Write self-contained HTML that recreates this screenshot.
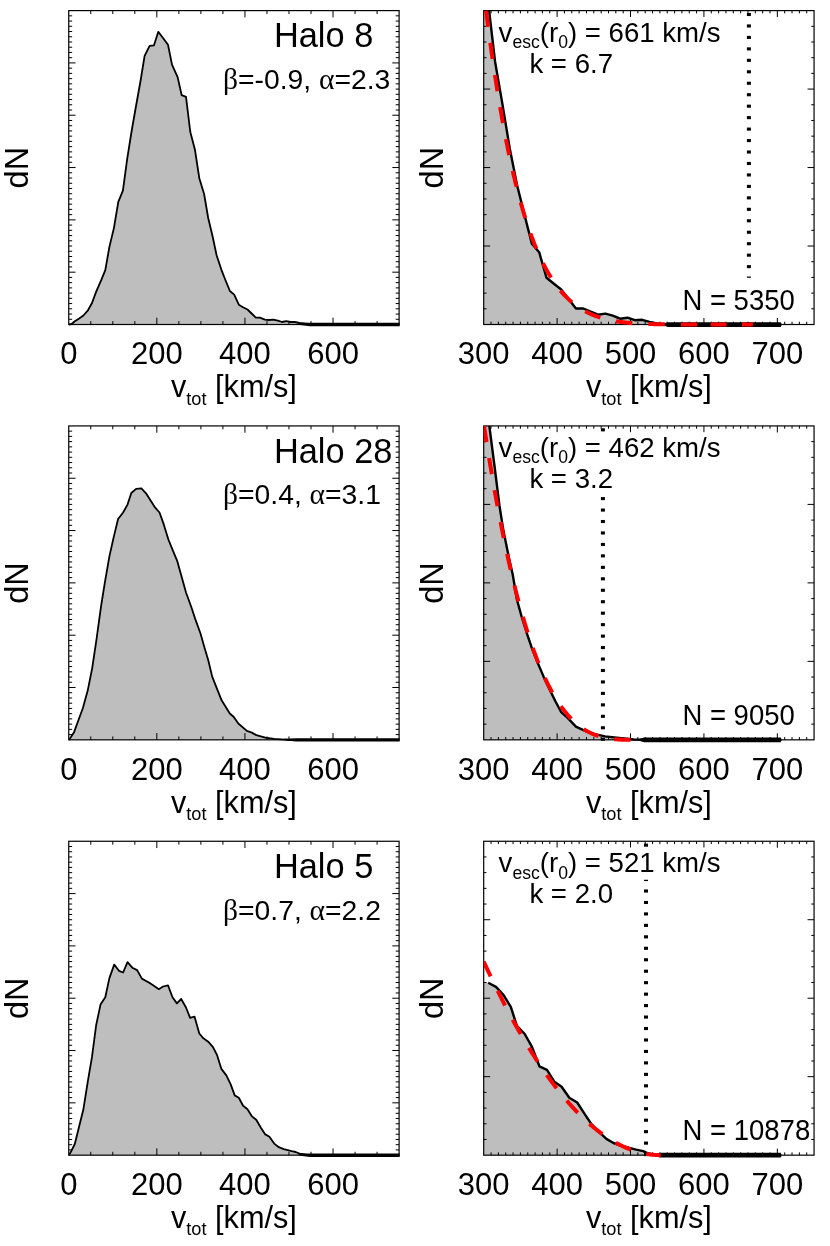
<!DOCTYPE html>
<html><head><meta charset="utf-8"><title>fig</title>
<style>html,body{margin:0;padding:0;background:#fff}svg{display:block;will-change:transform}</style></head>
<body>
<svg width="830" height="1246" viewBox="0 0 830 1246">
<rect width="830" height="1246" fill="#fff"/>
<defs>
<clipPath id="cl0"><rect x="68.75" y="10.6" width="331.35" height="318.9"/></clipPath>
<clipPath id="cr0"><rect x="483.7" y="10.6" width="331.35" height="318.9"/></clipPath>
<clipPath id="cl1"><rect x="68.75" y="425.93" width="331.35" height="318.9"/></clipPath>
<clipPath id="cr1"><rect x="483.7" y="425.93" width="331.35" height="318.9"/></clipPath>
<clipPath id="cl2"><rect x="68.75" y="841.26" width="331.35" height="318.9"/></clipPath>
<clipPath id="cr2"><rect x="483.7" y="841.26" width="331.35" height="318.9"/></clipPath>
</defs>
<polygon points="68.7,324.5 71.6,324 74.5,321.5 78.8,318.7 83.4,315.5 87.7,310.7 92,303 96.1,291.9 101,280.6 105.3,270.2 109.4,246.9 114,227.6 118.3,201.8 122.9,190.7 127.2,158.9 131.8,130 136.2,105 140.7,80 144.6,55.9 149.6,45.8 154,45.3 158.3,31.8 163,38 168,44.8 172,64.6 177.6,77.1 181.7,95.2 186,96.9 190.3,132 194.9,149.5 199.3,178.2 204.1,194 208.2,218 212.5,236 216.6,255.3 221.4,269.8 225.6,280.5 229.9,291 234.2,294.6 238.8,304.7 243,307.2 247.5,309.5 251.6,313.5 255.8,317.6 259.9,317.6 264.9,319.6 268.8,320 273.4,319.6 277.8,320.6 282.1,322 286.1,321.2 290.7,322 294.7,322 299.6,323 309.6,323.8 399.2,324.5 399.1,324.5 68.75,324.5" fill="#bebebe" clip-path="url(#cl0)"/>
<rect x="68.75" y="10.6" width="330.35" height="313.9" fill="none" stroke="#000" stroke-width="1.2"/>
<path d="M156.84 324.5v-6.8 M156.84 10.6v6.8 M244.94 324.5v-6.8 M244.94 10.6v6.8 M333.03 324.5v-6.8 M333.03 10.6v6.8 M90.77 324.5v-3.4 M90.77 10.6v3.4 M112.8 324.5v-3.4 M112.8 10.6v3.4 M134.82 324.5v-3.4 M134.82 10.6v3.4 M178.87 324.5v-3.4 M178.87 10.6v3.4 M200.89 324.5v-3.4 M200.89 10.6v3.4 M222.91 324.5v-3.4 M222.91 10.6v3.4 M266.96 324.5v-3.4 M266.96 10.6v3.4 M288.98 324.5v-3.4 M288.98 10.6v3.4 M311.01 324.5v-3.4 M311.01 10.6v3.4 M355.05 324.5v-3.4 M355.05 10.6v3.4 M377.08 324.5v-3.4 M377.08 10.6v3.4 M68.75 319.27h3.4 M399.1 319.27h-3.4 M68.75 314.04h3.4 M399.1 314.04h-3.4 M68.75 308.81h3.4 M399.1 308.81h-3.4 M68.75 303.57h3.4 M399.1 303.57h-3.4 M68.75 298.34h3.4 M399.1 298.34h-3.4 M68.75 293.11h3.4 M399.1 293.11h-3.4 M68.75 287.88h3.4 M399.1 287.88h-3.4 M68.75 282.65h3.4 M399.1 282.65h-3.4 M68.75 277.42h3.4 M399.1 277.42h-3.4 M68.75 272.18h6.8 M399.1 272.18h-6.8 M68.75 266.95h3.4 M399.1 266.95h-3.4 M68.75 261.72h3.4 M399.1 261.72h-3.4 M68.75 256.49h3.4 M399.1 256.49h-3.4 M68.75 251.26h3.4 M399.1 251.26h-3.4 M68.75 246.03h3.4 M399.1 246.03h-3.4 M68.75 240.79h3.4 M399.1 240.79h-3.4 M68.75 235.56h3.4 M399.1 235.56h-3.4 M68.75 230.33h3.4 M399.1 230.33h-3.4 M68.75 225.1h3.4 M399.1 225.1h-3.4 M68.75 219.87h6.8 M399.1 219.87h-6.8 M68.75 214.63h3.4 M399.1 214.63h-3.4 M68.75 209.4h3.4 M399.1 209.4h-3.4 M68.75 204.17h3.4 M399.1 204.17h-3.4 M68.75 198.94h3.4 M399.1 198.94h-3.4 M68.75 193.71h3.4 M399.1 193.71h-3.4 M68.75 188.48h3.4 M399.1 188.48h-3.4 M68.75 183.25h3.4 M399.1 183.25h-3.4 M68.75 178.01h3.4 M399.1 178.01h-3.4 M68.75 172.78h3.4 M399.1 172.78h-3.4 M68.75 167.55h6.8 M399.1 167.55h-6.8 M68.75 162.32h3.4 M399.1 162.32h-3.4 M68.75 157.09h3.4 M399.1 157.09h-3.4 M68.75 151.86h3.4 M399.1 151.86h-3.4 M68.75 146.62h3.4 M399.1 146.62h-3.4 M68.75 141.39h3.4 M399.1 141.39h-3.4 M68.75 136.16h3.4 M399.1 136.16h-3.4 M68.75 130.93h3.4 M399.1 130.93h-3.4 M68.75 125.7h3.4 M399.1 125.7h-3.4 M68.75 120.47h3.4 M399.1 120.47h-3.4 M68.75 115.23h6.8 M399.1 115.23h-6.8 M68.75 110h3.4 M399.1 110h-3.4 M68.75 104.77h3.4 M399.1 104.77h-3.4 M68.75 99.54h3.4 M399.1 99.54h-3.4 M68.75 94.31h3.4 M399.1 94.31h-3.4 M68.75 89.08h3.4 M399.1 89.08h-3.4 M68.75 83.84h3.4 M399.1 83.84h-3.4 M68.75 78.61h3.4 M399.1 78.61h-3.4 M68.75 73.38h3.4 M399.1 73.38h-3.4 M68.75 68.15h3.4 M399.1 68.15h-3.4 M68.75 62.92h6.8 M399.1 62.92h-6.8 M68.75 57.69h3.4 M399.1 57.69h-3.4 M68.75 52.45h3.4 M399.1 52.45h-3.4 M68.75 47.22h3.4 M399.1 47.22h-3.4 M68.75 41.99h3.4 M399.1 41.99h-3.4 M68.75 36.76h3.4 M399.1 36.76h-3.4 M68.75 31.53h3.4 M399.1 31.53h-3.4 M68.75 26.3h3.4 M399.1 26.3h-3.4 M68.75 21.06h3.4 M399.1 21.06h-3.4 M68.75 15.83h3.4 M399.1 15.83h-3.4" stroke="#000" stroke-width="1" fill="none"/>
<g clip-path="url(#cl0)">
<polyline points="68.7,324.5 71.6,324 74.5,321.5 78.8,318.7 83.4,315.5 87.7,310.7 92,303 96.1,291.9 101,280.6 105.3,270.2 109.4,246.9 114,227.6 118.3,201.8 122.9,190.7 127.2,158.9 131.8,130 136.2,105 140.7,80 144.6,55.9 149.6,45.8 154,45.3 158.3,31.8 163,38 168,44.8 172,64.6 177.6,77.1 181.7,95.2 186,96.9 190.3,132 194.9,149.5 199.3,178.2 204.1,194 208.2,218 212.5,236 216.6,255.3 221.4,269.8 225.6,280.5 229.9,291 234.2,294.6 238.8,304.7 243,307.2 247.5,309.5 251.6,313.5 255.8,317.6 259.9,317.6 264.9,319.6 268.8,320 273.4,319.6 277.8,320.6 282.1,322 286.1,321.2 290.7,322 294.7,322 299.6,323 309.6,323.8 399.2,324.5" fill="none" stroke="#000" stroke-width="1.8" stroke-linejoin="round"/>
<polygon points="298,323.5 310,322.8 399.7,322.8 399.7,326.25 310,326.25 300,325.1" fill="#000"/>
</g>
<text x="68.75" y="364.2" font-family="Liberation Sans, sans-serif" font-size="31" text-anchor="middle">0</text>
<text x="156.84" y="364.2" font-family="Liberation Sans, sans-serif" font-size="31" text-anchor="middle">200</text>
<text x="244.94" y="364.2" font-family="Liberation Sans, sans-serif" font-size="31" text-anchor="middle">400</text>
<text x="333.03" y="364.2" font-family="Liberation Sans, sans-serif" font-size="31" text-anchor="middle">600</text>
<text x="233.93" y="397.2" font-family="Liberation Sans, sans-serif" font-size="30.7" text-anchor="middle">v<tspan font-size="18.2" dy="7.4">tot</tspan><tspan dy="-7.4"> [km/s]</tspan></text>
<text transform="translate(27.5 167.65) rotate(-90)" font-family="Liberation Sans, sans-serif" font-size="32.5" text-anchor="middle">dN</text>
<text x="273.9" y="47.4" font-family="Liberation Sans, sans-serif" font-size="34.4">Halo 8</text>
<text x="223" y="89" font-family="Liberation Sans, sans-serif" font-size="28.3"><tspan font-family="Liberation Serif, serif" font-size="29.5">β</tspan>=-0.9, <tspan font-family="Liberation Serif, serif" font-size="29.5">α</tspan>=2.3</text>
<polygon points="483.7,-2 487.68,-2 495.04,61.5 502.39,103.9 509.75,148.4 517.1,185.2 524.46,214.8 531.82,243.6 539.17,252.2 546.53,277.8 553.88,283.7 561.24,289.5 568.6,299 575.95,308.5 583.31,308.5 590.66,311.6 598.02,314.7 605.38,313.6 612.73,315.7 620.09,318.7 627.44,317.7 634.8,320.2 642.16,319.8 649.51,321.8 656.87,323.5 664.22,324.5 781.5,324.5 814.05,324.5 483.7,324.5" fill="#bebebe" clip-path="url(#cr0)"/>
<rect x="483.7" y="10.6" width="330.35" height="313.9" fill="none" stroke="#000" stroke-width="1.2"/>
<path d="M557.11 324.5v-6.5 M557.11 10.6v6.5 M630.52 324.5v-6.5 M630.52 10.6v6.5 M703.93 324.5v-6.5 M703.93 10.6v6.5 M777.34 324.5v-6.5 M777.34 10.6v6.5 M491.04 324.5v-2.8 M491.04 10.6v2.8 M498.38 324.5v-2.8 M498.38 10.6v2.8 M505.72 324.5v-2.8 M505.72 10.6v2.8 M513.06 324.5v-2.8 M513.06 10.6v2.8 M520.41 324.5v-2.8 M520.41 10.6v2.8 M527.75 324.5v-2.8 M527.75 10.6v2.8 M535.09 324.5v-2.8 M535.09 10.6v2.8 M542.43 324.5v-2.8 M542.43 10.6v2.8 M549.77 324.5v-2.8 M549.77 10.6v2.8 M564.45 324.5v-2.8 M564.45 10.6v2.8 M571.79 324.5v-2.8 M571.79 10.6v2.8 M579.13 324.5v-2.8 M579.13 10.6v2.8 M586.48 324.5v-2.8 M586.48 10.6v2.8 M593.82 324.5v-2.8 M593.82 10.6v2.8 M601.16 324.5v-2.8 M601.16 10.6v2.8 M608.5 324.5v-2.8 M608.5 10.6v2.8 M615.84 324.5v-2.8 M615.84 10.6v2.8 M623.18 324.5v-2.8 M623.18 10.6v2.8 M637.86 324.5v-2.8 M637.86 10.6v2.8 M645.2 324.5v-2.8 M645.2 10.6v2.8 M652.55 324.5v-2.8 M652.55 10.6v2.8 M659.89 324.5v-2.8 M659.89 10.6v2.8 M667.23 324.5v-2.8 M667.23 10.6v2.8 M674.57 324.5v-2.8 M674.57 10.6v2.8 M681.91 324.5v-2.8 M681.91 10.6v2.8 M689.25 324.5v-2.8 M689.25 10.6v2.8 M696.59 324.5v-2.8 M696.59 10.6v2.8 M711.27 324.5v-2.8 M711.27 10.6v2.8 M718.62 324.5v-2.8 M718.62 10.6v2.8 M725.96 324.5v-2.8 M725.96 10.6v2.8 M733.3 324.5v-2.8 M733.3 10.6v2.8 M740.64 324.5v-2.8 M740.64 10.6v2.8 M747.98 324.5v-2.8 M747.98 10.6v2.8 M755.32 324.5v-2.8 M755.32 10.6v2.8 M762.66 324.5v-2.8 M762.66 10.6v2.8 M770 324.5v-2.8 M770 10.6v2.8 M784.69 324.5v-2.8 M784.69 10.6v2.8 M792.03 324.5v-2.8 M792.03 10.6v2.8 M799.37 324.5v-2.8 M799.37 10.6v2.8 M806.71 324.5v-2.8 M806.71 10.6v2.8 M483.7 308.81h2.8 M814.05 308.81h-2.8 M483.7 293.11h2.8 M814.05 293.11h-2.8 M483.7 277.42h2.8 M814.05 277.42h-2.8 M483.7 261.72h2.8 M814.05 261.72h-2.8 M483.7 246.03h6.5 M814.05 246.03h-6.5 M483.7 230.33h2.8 M814.05 230.33h-2.8 M483.7 214.64h2.8 M814.05 214.64h-2.8 M483.7 198.94h2.8 M814.05 198.94h-2.8 M483.7 183.25h2.8 M814.05 183.25h-2.8 M483.7 167.55h6.5 M814.05 167.55h-6.5 M483.7 151.86h2.8 M814.05 151.86h-2.8 M483.7 136.16h2.8 M814.05 136.16h-2.8 M483.7 120.47h2.8 M814.05 120.47h-2.8 M483.7 104.77h2.8 M814.05 104.77h-2.8 M483.7 89.07h6.5 M814.05 89.07h-6.5 M483.7 73.38h2.8 M814.05 73.38h-2.8 M483.7 57.69h2.8 M814.05 57.69h-2.8 M483.7 41.99h2.8 M814.05 41.99h-2.8 M483.7 26.3h2.8 M814.05 26.3h-2.8" stroke="#000" stroke-width="1" fill="none"/>
<g clip-path="url(#cr0)">
<polyline points="487.68,-2 495.04,61.5 502.39,103.9 509.75,148.4 517.1,185.2 524.46,214.8 531.82,243.6 539.17,252.2 546.53,277.8 553.88,283.7 561.24,289.5 568.6,299 575.95,308.5 583.31,308.5 590.66,311.6 598.02,314.7 605.38,313.6 612.73,315.7 620.09,318.7 627.44,317.7 634.8,320.2 642.16,319.8 649.51,321.8 656.87,323.5 664.22,324.5 781.5,324.5" fill="none" stroke="#000" stroke-width="2.4" stroke-linejoin="round"/>
<polygon points="664,323.3 668,322.2 780.9,322.2 780.9,326.95 668,326.95 664,325.7" fill="#000"/>
<g fill="#000"><rect x="746.9" y="12.95" width="4" height="3.1"/><rect x="746.9" y="24.41" width="4" height="3.1"/><rect x="746.9" y="35.87" width="4" height="3.1"/><rect x="746.9" y="47.33" width="4" height="3.1"/><rect x="746.9" y="58.79" width="4" height="3.1"/><rect x="746.9" y="70.25" width="4" height="3.1"/><rect x="746.9" y="81.71" width="4" height="3.1"/><rect x="746.9" y="93.17" width="4" height="3.1"/><rect x="746.9" y="104.63" width="4" height="3.1"/><rect x="746.9" y="116.09" width="4" height="3.1"/><rect x="746.9" y="127.55" width="4" height="3.1"/><rect x="746.9" y="139.01" width="4" height="3.1"/><rect x="746.9" y="150.47" width="4" height="3.1"/><rect x="746.9" y="161.93" width="4" height="3.1"/><rect x="746.9" y="173.39" width="4" height="3.1"/><rect x="746.9" y="184.85" width="4" height="3.1"/><rect x="746.9" y="196.31" width="4" height="3.1"/><rect x="746.9" y="207.77" width="4" height="3.1"/><rect x="746.9" y="219.23" width="4" height="3.1"/><rect x="746.9" y="230.69" width="4" height="3.1"/><rect x="746.9" y="242.15" width="4" height="3.1"/><rect x="746.9" y="253.61" width="4" height="3.1"/><rect x="746.9" y="265.07" width="4" height="3.1"/><rect x="746.9" y="276.53" width="4" height="3.1"/><rect x="746.9" y="287.99" width="4" height="3.1"/><rect x="746.9" y="299.45" width="4" height="3.1"/><rect x="746.9" y="310.91" width="4" height="3.1"/><rect x="746.9" y="322.37" width="4" height="3.1"/></g>
<polyline points="486.07,10.6 486.7,15.59 487.7,23.39 488.7,31.02 489.7,38.48 490.7,45.79 491.7,52.93 492.7,59.92 493.7,66.76 494.7,73.44 495.7,79.98 496.7,86.37 497.7,92.61 498.7,98.72 499.7,104.69 500.7,110.53 501.7,116.23 502.7,121.81 503.7,127.25 504.7,132.57 505.7,137.77 506.7,142.85 507.7,147.81 508.7,152.65 509.7,157.38 510.7,162 511.7,166.52 512.7,170.92 513.7,175.22 514.7,179.41 515.7,183.51 516.7,187.51 517.7,191.41 518.7,195.21 519.7,198.92 520.7,202.54 521.7,206.07 522.7,209.52 523.7,212.88 524.7,216.15 525.7,219.35 526.7,222.46 527.7,225.49 528.7,228.45 529.7,231.33 530.7,234.14 531.7,236.87 532.7,239.54 533.7,242.13 534.7,244.66 535.7,247.12 536.7,249.52 537.7,251.85 538.7,254.12 539.7,256.33 540.7,258.48 541.7,260.57 542.7,262.61 543.7,264.59 544.7,266.52 545.7,268.39 546.7,270.21 547.7,271.98 548.7,273.7 549.7,275.38 550.7,277 551.7,278.58 552.7,280.12 553.7,281.61 554.7,283.06 555.7,284.47 556.7,285.83 557.7,287.16 558.7,288.45 559.7,289.69 560.7,290.91 561.7,292.08 562.7,293.22 563.7,294.33 564.7,295.4 565.7,296.44 566.7,297.45 567.7,298.43 568.7,299.38 569.7,300.3 570.7,301.18 571.7,302.05 572.7,302.88 573.7,303.69 574.7,304.47 575.7,305.23 576.7,305.96 577.7,306.67 578.7,307.35 579.7,308.01 580.7,308.66 581.7,309.27 582.7,309.87 583.7,310.45 584.7,311.01 585.7,311.55 586.7,312.07 587.7,312.58 588.7,313.06 589.7,313.53 590.7,313.98 591.7,314.42 592.7,314.84 593.7,315.25 594.7,315.64 595.7,316.02 596.7,316.38 597.7,316.73 598.7,317.07 599.7,317.39 600.7,317.7 601.7,318.01 602.7,318.29 603.7,318.57 604.7,318.84 605.7,319.1 606.7,319.35 607.7,319.58 608.7,319.81 609.7,320.03 610.7,320.24 611.7,320.44 612.7,320.64 613.7,320.82 614.7,321 615.7,321.17 616.7,321.33 617.7,321.49 618.7,321.64 619.7,321.78 620.7,321.92 621.7,322.05 622.7,322.18 623.7,322.3 624.7,322.41 625.7,322.52 626.7,322.63 627.7,322.73 628.7,322.82 629.7,322.91 630.7,323 631.7,323.08 632.7,323.16 633.7,323.24 634.7,323.31 635.7,323.38 636.7,323.44 637.7,323.5 638.7,323.56 639.7,323.62 640.7,323.67 641.7,323.72 642.7,323.77 643.7,323.81 644.7,323.85 645.7,323.89 646.7,323.93 647.7,323.97 648.7,324 649.7,324.04 650.7,324.07 651.7,324.09 652.7,324.12 653.7,324.15 654.7,324.17 655.7,324.19 656.7,324.22 657.7,324.24 658.7,324.25 659.7,324.27 660.7,324.29 661.7,324.3 662.7,324.32 663.7,324.33 664.7,324.34 665.7,324.36 666.7,324.37 667.7,324.38 668.7,324.39 669.7,324.4 670.7,324.41 671.7,324.41 672.7,324.42 673.7,324.43 674.7,324.43 675.7,324.44 676.7,324.44 677.7,324.45 678.7,324.45 679.7,324.46 680.7,324.46 681.7,324.47 682.7,324.47 683.7,324.47 684.7,324.47 685.7,324.48 686.7,324.48 687.7,324.48 688.7,324.48 689.7,324.49 690.7,324.49 691.7,324.49 692.7,324.49 693.7,324.49 694.7,324.49 695.7,324.49 696.7,324.49 697.7,324.49 698.7,324.5 699.7,324.5 700,324.5" fill="none" stroke="#f00" stroke-width="4.0" stroke-dasharray="16.4 16.1"/>
<path d="M710.7 324.6H726.6" stroke="#f00" stroke-width="4.0" fill="none"/>
<path d="M742 324.6H752.9" stroke="#f00" stroke-width="4.0" fill="none"/>
</g>
<text x="483.7" y="364.2" font-family="Liberation Sans, sans-serif" font-size="31" text-anchor="middle">300</text>
<text x="557.11" y="364.2" font-family="Liberation Sans, sans-serif" font-size="31" text-anchor="middle">400</text>
<text x="630.52" y="364.2" font-family="Liberation Sans, sans-serif" font-size="31" text-anchor="middle">500</text>
<text x="703.93" y="364.2" font-family="Liberation Sans, sans-serif" font-size="31" text-anchor="middle">600</text>
<text x="777.34" y="364.2" font-family="Liberation Sans, sans-serif" font-size="31" text-anchor="middle">700</text>
<text x="648.88" y="397.2" font-family="Liberation Sans, sans-serif" font-size="30.7" text-anchor="middle">v<tspan font-size="18.2" dy="7.4">tot</tspan><tspan dy="-7.4"> [km/s]</tspan></text>
<text transform="translate(442.5 167.65) rotate(-90)" font-family="Liberation Sans, sans-serif" font-size="32.5" text-anchor="middle">dN</text>
<rect x="498" y="17" width="222" height="32.1" fill="#fff"/>
<rect x="529" y="48.6" width="83" height="31.5" fill="#fff"/>
<rect x="683" y="277.8" width="113" height="38" fill="#fff"/>
<text x="498.6" y="41.6" font-family="Liberation Sans, sans-serif" font-size="27.6">v<tspan font-size="17.6" dy="6.5">esc</tspan><tspan dy="-6.5">(r</tspan><tspan font-size="17.6" dy="6.5">0</tspan><tspan dy="-6.5">) = 661 km/s</tspan></text>
<text x="529.4" y="72.7" font-family="Liberation Sans, sans-serif" font-size="27.6">k = 6.7</text>
<text x="682.4" y="309.5" font-family="Liberation Sans, sans-serif" font-size="28.6" textLength="112.4" lengthAdjust="spacingAndGlyphs">N = 5350</text>
<polygon points="68.7,739.8 69.8,738.7 73.9,732.6 78.4,720.3 82.9,708 87.7,690.6 92.2,668.1 96.5,639.4 101,606.6 104.8,582.9 109.4,556.4 113.7,537.1 118.1,519 123.1,512.5 127.5,504.6 131.3,493 136.1,488.9 141.4,488.4 146,493.3 150.6,500.5 155.2,507.7 159.5,512.5 163.6,523.9 168.4,539.5 172.8,550.4 177.3,561.2 181.7,576.9 186,592.5 191.3,607 195.2,618.9 200.5,633.5 204.6,648 208.2,660 212.2,676.6 221.6,700.3 229.8,713.5 233.8,717 238.3,723.5 246.9,730.9 251.9,732.6 256.3,735.1 265.4,737.6 274.1,738.8 288.9,739.8 399.2,739.8 399.1,739.83 68.75,739.83" fill="#bebebe" clip-path="url(#cl1)"/>
<rect x="68.75" y="425.93" width="330.35" height="313.9" fill="none" stroke="#000" stroke-width="1.2"/>
<path d="M156.84 739.83v-6.8 M156.84 425.93v6.8 M244.94 739.83v-6.8 M244.94 425.93v6.8 M333.03 739.83v-6.8 M333.03 425.93v6.8 M90.77 739.83v-3.4 M90.77 425.93v3.4 M112.8 739.83v-3.4 M112.8 425.93v3.4 M134.82 739.83v-3.4 M134.82 425.93v3.4 M178.87 739.83v-3.4 M178.87 425.93v3.4 M200.89 739.83v-3.4 M200.89 425.93v3.4 M222.91 739.83v-3.4 M222.91 425.93v3.4 M266.96 739.83v-3.4 M266.96 425.93v3.4 M288.98 739.83v-3.4 M288.98 425.93v3.4 M311.01 739.83v-3.4 M311.01 425.93v3.4 M355.05 739.83v-3.4 M355.05 425.93v3.4 M377.08 739.83v-3.4 M377.08 425.93v3.4 M68.75 734.6h3.4 M399.1 734.6h-3.4 M68.75 729.37h3.4 M399.1 729.37h-3.4 M68.75 724.13h3.4 M399.1 724.13h-3.4 M68.75 718.9h3.4 M399.1 718.9h-3.4 M68.75 713.67h3.4 M399.1 713.67h-3.4 M68.75 708.44h3.4 M399.1 708.44h-3.4 M68.75 703.21h3.4 M399.1 703.21h-3.4 M68.75 697.98h3.4 M399.1 697.98h-3.4 M68.75 692.74h3.4 M399.1 692.74h-3.4 M68.75 687.51h6.8 M399.1 687.51h-6.8 M68.75 682.28h3.4 M399.1 682.28h-3.4 M68.75 677.05h3.4 M399.1 677.05h-3.4 M68.75 671.82h3.4 M399.1 671.82h-3.4 M68.75 666.59h3.4 M399.1 666.59h-3.4 M68.75 661.35h3.4 M399.1 661.35h-3.4 M68.75 656.12h3.4 M399.1 656.12h-3.4 M68.75 650.89h3.4 M399.1 650.89h-3.4 M68.75 645.66h3.4 M399.1 645.66h-3.4 M68.75 640.43h3.4 M399.1 640.43h-3.4 M68.75 635.2h6.8 M399.1 635.2h-6.8 M68.75 629.96h3.4 M399.1 629.96h-3.4 M68.75 624.73h3.4 M399.1 624.73h-3.4 M68.75 619.5h3.4 M399.1 619.5h-3.4 M68.75 614.27h3.4 M399.1 614.27h-3.4 M68.75 609.04h3.4 M399.1 609.04h-3.4 M68.75 603.81h3.4 M399.1 603.81h-3.4 M68.75 598.57h3.4 M399.1 598.57h-3.4 M68.75 593.34h3.4 M399.1 593.34h-3.4 M68.75 588.11h3.4 M399.1 588.11h-3.4 M68.75 582.88h6.8 M399.1 582.88h-6.8 M68.75 577.65h3.4 M399.1 577.65h-3.4 M68.75 572.42h3.4 M399.1 572.42h-3.4 M68.75 567.18h3.4 M399.1 567.18h-3.4 M68.75 561.95h3.4 M399.1 561.95h-3.4 M68.75 556.72h3.4 M399.1 556.72h-3.4 M68.75 551.49h3.4 M399.1 551.49h-3.4 M68.75 546.26h3.4 M399.1 546.26h-3.4 M68.75 541.03h3.4 M399.1 541.03h-3.4 M68.75 535.79h3.4 M399.1 535.79h-3.4 M68.75 530.56h6.8 M399.1 530.56h-6.8 M68.75 525.33h3.4 M399.1 525.33h-3.4 M68.75 520.1h3.4 M399.1 520.1h-3.4 M68.75 514.87h3.4 M399.1 514.87h-3.4 M68.75 509.64h3.4 M399.1 509.64h-3.4 M68.75 504.4h3.4 M399.1 504.4h-3.4 M68.75 499.17h3.4 M399.1 499.17h-3.4 M68.75 493.94h3.4 M399.1 493.94h-3.4 M68.75 488.71h3.4 M399.1 488.71h-3.4 M68.75 483.48h3.4 M399.1 483.48h-3.4 M68.75 478.25h6.8 M399.1 478.25h-6.8 M68.75 473.01h3.4 M399.1 473.01h-3.4 M68.75 467.78h3.4 M399.1 467.78h-3.4 M68.75 462.55h3.4 M399.1 462.55h-3.4 M68.75 457.32h3.4 M399.1 457.32h-3.4 M68.75 452.09h3.4 M399.1 452.09h-3.4 M68.75 446.86h3.4 M399.1 446.86h-3.4 M68.75 441.62h3.4 M399.1 441.62h-3.4 M68.75 436.39h3.4 M399.1 436.39h-3.4 M68.75 431.16h3.4 M399.1 431.16h-3.4" stroke="#000" stroke-width="1" fill="none"/>
<g clip-path="url(#cl1)">
<polyline points="68.7,739.8 69.8,738.7 73.9,732.6 78.4,720.3 82.9,708 87.7,690.6 92.2,668.1 96.5,639.4 101,606.6 104.8,582.9 109.4,556.4 113.7,537.1 118.1,519 123.1,512.5 127.5,504.6 131.3,493 136.1,488.9 141.4,488.4 146,493.3 150.6,500.5 155.2,507.7 159.5,512.5 163.6,523.9 168.4,539.5 172.8,550.4 177.3,561.2 181.7,576.9 186,592.5 191.3,607 195.2,618.9 200.5,633.5 204.6,648 208.2,660 212.2,676.6 221.6,700.3 229.8,713.5 233.8,717 238.3,723.5 246.9,730.9 251.9,732.6 256.3,735.1 265.4,737.6 274.1,738.8 288.9,739.8 399.2,739.8" fill="none" stroke="#000" stroke-width="1.8" stroke-linejoin="round"/>
<polygon points="284,738.83 296,738.13 399.7,738.13 399.7,741.58 296,741.58 286,740.43" fill="#000"/>
</g>
<text x="68.75" y="779.53" font-family="Liberation Sans, sans-serif" font-size="31" text-anchor="middle">0</text>
<text x="156.84" y="779.53" font-family="Liberation Sans, sans-serif" font-size="31" text-anchor="middle">200</text>
<text x="244.94" y="779.53" font-family="Liberation Sans, sans-serif" font-size="31" text-anchor="middle">400</text>
<text x="333.03" y="779.53" font-family="Liberation Sans, sans-serif" font-size="31" text-anchor="middle">600</text>
<text x="233.93" y="812.53" font-family="Liberation Sans, sans-serif" font-size="30.7" text-anchor="middle">v<tspan font-size="18.2" dy="7.4">tot</tspan><tspan dy="-7.4"> [km/s]</tspan></text>
<text transform="translate(27.5 582.98) rotate(-90)" font-family="Liberation Sans, sans-serif" font-size="32.5" text-anchor="middle">dN</text>
<text x="273.9" y="462.73" font-family="Liberation Sans, sans-serif" font-size="34.4">Halo 28</text>
<text x="223" y="504.33" font-family="Liberation Sans, sans-serif" font-size="28.3"><tspan font-family="Liberation Serif, serif" font-size="29.5">β</tspan>=0.4, <tspan font-family="Liberation Serif, serif" font-size="29.5">α</tspan>=3.1</text>
<polygon points="483.7,413 487.7,413 489.3,425.7 494.5,466 499.5,506 503.6,531.6 509,558 512.8,575 516.9,599.6 522,618 527.2,634.4 531.7,647.7 537.4,662.1 543.5,676.4 549.7,689.7 555.8,702 561,711.8 568.1,718.4 575.9,726.6 584.5,730.7 592.7,733.7 605,736.4 621.4,738.3 633.7,739.5 645,739.8 781.5,739.8 814.05,739.83 483.7,739.83" fill="#bebebe" clip-path="url(#cr1)"/>
<rect x="483.7" y="425.93" width="330.35" height="313.9" fill="none" stroke="#000" stroke-width="1.2"/>
<path d="M557.11 739.83v-6.5 M557.11 425.93v6.5 M630.52 739.83v-6.5 M630.52 425.93v6.5 M703.93 739.83v-6.5 M703.93 425.93v6.5 M777.34 739.83v-6.5 M777.34 425.93v6.5 M491.04 739.83v-2.8 M491.04 425.93v2.8 M498.38 739.83v-2.8 M498.38 425.93v2.8 M505.72 739.83v-2.8 M505.72 425.93v2.8 M513.06 739.83v-2.8 M513.06 425.93v2.8 M520.41 739.83v-2.8 M520.41 425.93v2.8 M527.75 739.83v-2.8 M527.75 425.93v2.8 M535.09 739.83v-2.8 M535.09 425.93v2.8 M542.43 739.83v-2.8 M542.43 425.93v2.8 M549.77 739.83v-2.8 M549.77 425.93v2.8 M564.45 739.83v-2.8 M564.45 425.93v2.8 M571.79 739.83v-2.8 M571.79 425.93v2.8 M579.13 739.83v-2.8 M579.13 425.93v2.8 M586.48 739.83v-2.8 M586.48 425.93v2.8 M593.82 739.83v-2.8 M593.82 425.93v2.8 M601.16 739.83v-2.8 M601.16 425.93v2.8 M608.5 739.83v-2.8 M608.5 425.93v2.8 M615.84 739.83v-2.8 M615.84 425.93v2.8 M623.18 739.83v-2.8 M623.18 425.93v2.8 M637.86 739.83v-2.8 M637.86 425.93v2.8 M645.2 739.83v-2.8 M645.2 425.93v2.8 M652.55 739.83v-2.8 M652.55 425.93v2.8 M659.89 739.83v-2.8 M659.89 425.93v2.8 M667.23 739.83v-2.8 M667.23 425.93v2.8 M674.57 739.83v-2.8 M674.57 425.93v2.8 M681.91 739.83v-2.8 M681.91 425.93v2.8 M689.25 739.83v-2.8 M689.25 425.93v2.8 M696.59 739.83v-2.8 M696.59 425.93v2.8 M711.27 739.83v-2.8 M711.27 425.93v2.8 M718.62 739.83v-2.8 M718.62 425.93v2.8 M725.96 739.83v-2.8 M725.96 425.93v2.8 M733.3 739.83v-2.8 M733.3 425.93v2.8 M740.64 739.83v-2.8 M740.64 425.93v2.8 M747.98 739.83v-2.8 M747.98 425.93v2.8 M755.32 739.83v-2.8 M755.32 425.93v2.8 M762.66 739.83v-2.8 M762.66 425.93v2.8 M770 739.83v-2.8 M770 425.93v2.8 M784.69 739.83v-2.8 M784.69 425.93v2.8 M792.03 739.83v-2.8 M792.03 425.93v2.8 M799.37 739.83v-2.8 M799.37 425.93v2.8 M806.71 739.83v-2.8 M806.71 425.93v2.8 M483.7 724.13h2.8 M814.05 724.13h-2.8 M483.7 708.44h2.8 M814.05 708.44h-2.8 M483.7 692.74h2.8 M814.05 692.74h-2.8 M483.7 677.05h2.8 M814.05 677.05h-2.8 M483.7 661.35h6.5 M814.05 661.35h-6.5 M483.7 645.66h2.8 M814.05 645.66h-2.8 M483.7 629.96h2.8 M814.05 629.96h-2.8 M483.7 614.27h2.8 M814.05 614.27h-2.8 M483.7 598.57h2.8 M814.05 598.57h-2.8 M483.7 582.88h6.5 M814.05 582.88h-6.5 M483.7 567.18h2.8 M814.05 567.18h-2.8 M483.7 551.49h2.8 M814.05 551.49h-2.8 M483.7 535.79h2.8 M814.05 535.79h-2.8 M483.7 520.1h2.8 M814.05 520.1h-2.8 M483.7 504.4h6.5 M814.05 504.4h-6.5 M483.7 488.71h2.8 M814.05 488.71h-2.8 M483.7 473.01h2.8 M814.05 473.01h-2.8 M483.7 457.32h2.8 M814.05 457.32h-2.8 M483.7 441.62h2.8 M814.05 441.62h-2.8" stroke="#000" stroke-width="1" fill="none"/>
<g clip-path="url(#cr1)">
<polyline points="487.7,413 489.3,425.7 494.5,466 499.5,506 503.6,531.6 509,558 512.8,575 516.9,599.6 522,618 527.2,634.4 531.7,647.7 537.4,662.1 543.5,676.4 549.7,689.7 555.8,702 561,711.8 568.1,718.4 575.9,726.6 584.5,730.7 592.7,733.7 605,736.4 621.4,738.3 633.7,739.5 645,739.8 781.5,739.8" fill="none" stroke="#000" stroke-width="2.4" stroke-linejoin="round"/>
<polygon points="640,738.63 644,737.53 780.9,737.53 780.9,742.28 644,742.28 640,741.03" fill="#000"/>
<g fill="#000"><rect x="600.9" y="428.28" width="4" height="3.1"/><rect x="600.9" y="439.74" width="4" height="3.1"/><rect x="600.9" y="451.2" width="4" height="3.1"/><rect x="600.9" y="462.66" width="4" height="3.1"/><rect x="600.9" y="474.12" width="4" height="3.1"/><rect x="600.9" y="485.58" width="4" height="3.1"/><rect x="600.9" y="497.04" width="4" height="3.1"/><rect x="600.9" y="508.5" width="4" height="3.1"/><rect x="600.9" y="519.96" width="4" height="3.1"/><rect x="600.9" y="531.42" width="4" height="3.1"/><rect x="600.9" y="542.88" width="4" height="3.1"/><rect x="600.9" y="554.34" width="4" height="3.1"/><rect x="600.9" y="565.8" width="4" height="3.1"/><rect x="600.9" y="577.26" width="4" height="3.1"/><rect x="600.9" y="588.72" width="4" height="3.1"/><rect x="600.9" y="600.18" width="4" height="3.1"/><rect x="600.9" y="611.64" width="4" height="3.1"/><rect x="600.9" y="623.1" width="4" height="3.1"/><rect x="600.9" y="634.56" width="4" height="3.1"/><rect x="600.9" y="646.02" width="4" height="3.1"/><rect x="600.9" y="657.48" width="4" height="3.1"/><rect x="600.9" y="668.94" width="4" height="3.1"/><rect x="600.9" y="680.4" width="4" height="3.1"/><rect x="600.9" y="691.86" width="4" height="3.1"/><rect x="600.9" y="703.32" width="4" height="3.1"/><rect x="600.9" y="714.78" width="4" height="3.1"/><rect x="600.9" y="726.24" width="4" height="3.1"/><rect x="600.9" y="737.7" width="4" height="3.1"/></g>
<polyline points="484.04,425.93 484.7,430.28 485.7,436.75 486.7,443.11 487.7,449.39 488.7,455.57 489.7,461.66 490.7,467.67 491.7,473.58 492.7,479.4 493.7,485.14 494.7,490.79 495.7,496.35 496.7,501.82 497.7,507.21 498.7,512.52 499.7,517.74 500.7,522.88 501.7,527.93 502.7,532.91 503.7,537.8 504.7,542.62 505.7,547.35 506.7,552.01 507.7,556.58 508.7,561.08 509.7,565.51 510.7,569.85 511.7,574.13 512.7,578.32 513.7,582.45 514.7,586.5 515.7,590.48 516.7,594.39 517.7,598.22 518.7,601.99 519.7,605.69 520.7,609.32 521.7,612.88 522.7,616.37 523.7,619.8 524.7,623.16 525.7,626.45 526.7,629.68 527.7,632.85 528.7,635.95 529.7,638.99 530.7,641.97 531.7,644.89 532.7,647.75 533.7,650.55 534.7,653.29 535.7,655.97 536.7,658.59 537.7,661.16 538.7,663.67 539.7,666.12 540.7,668.52 541.7,670.86 542.7,673.16 543.7,675.39 544.7,677.58 545.7,679.72 546.7,681.8 547.7,683.83 548.7,685.82 549.7,687.75 550.7,689.64 551.7,691.48 552.7,693.27 553.7,695.02 554.7,696.72 555.7,698.37 556.7,699.99 557.7,701.55 558.7,703.08 559.7,704.56 560.7,706 561.7,707.4 562.7,708.76 563.7,710.08 564.7,711.36 565.7,712.61 566.7,713.81 567.7,714.98 568.7,716.11 569.7,717.21 570.7,718.27 571.7,719.29 572.7,720.28 573.7,721.24 574.7,722.16 575.7,723.06 576.7,723.92 577.7,724.75 578.7,725.55 579.7,726.32 580.7,727.06 581.7,727.77 582.7,728.46 583.7,729.12 584.7,729.75 585.7,730.35 586.7,730.93 587.7,731.49 588.7,732.02 589.7,732.53 590.7,733.01 591.7,733.47 592.7,733.91 593.7,734.33 594.7,734.72 595.7,735.1 596.7,735.46 597.7,735.8 598.7,736.12 599.7,736.42 600.7,736.7 601.7,736.97 602.7,737.22 603.7,737.46 604.7,737.68 605.7,737.89 606.7,738.08 607.7,738.26 608.7,738.42 609.7,738.58 610.7,738.72 611.7,738.85 612.7,738.97 613.7,739.08 614.7,739.18 615.7,739.27 616.7,739.35 617.7,739.42 618.7,739.48 619.7,739.54 620.7,739.59 621.7,739.64 622.7,739.67 623.7,739.71 624.7,739.73 625.7,739.76 626.7,739.78 627.7,739.79 628.7,739.8 629.7,739.81 630.7,739.82 631.7,739.82 632.7,739.83 633.5,739.83" fill="none" stroke="#f00" stroke-width="4.0" stroke-dasharray="16.4 16.1"/>
</g>
<text x="483.7" y="779.53" font-family="Liberation Sans, sans-serif" font-size="31" text-anchor="middle">300</text>
<text x="557.11" y="779.53" font-family="Liberation Sans, sans-serif" font-size="31" text-anchor="middle">400</text>
<text x="630.52" y="779.53" font-family="Liberation Sans, sans-serif" font-size="31" text-anchor="middle">500</text>
<text x="703.93" y="779.53" font-family="Liberation Sans, sans-serif" font-size="31" text-anchor="middle">600</text>
<text x="777.34" y="779.53" font-family="Liberation Sans, sans-serif" font-size="31" text-anchor="middle">700</text>
<text x="648.88" y="812.53" font-family="Liberation Sans, sans-serif" font-size="30.7" text-anchor="middle">v<tspan font-size="18.2" dy="7.4">tot</tspan><tspan dy="-7.4"> [km/s]</tspan></text>
<text transform="translate(442.5 582.98) rotate(-90)" font-family="Liberation Sans, sans-serif" font-size="32.5" text-anchor="middle">dN</text>
<rect x="498" y="432.33" width="222" height="32.1" fill="#fff"/>
<rect x="529" y="463.93" width="83" height="31.5" fill="#fff"/>
<rect x="683" y="693.13" width="113" height="38" fill="#fff"/>
<text x="498.6" y="456.93" font-family="Liberation Sans, sans-serif" font-size="27.6">v<tspan font-size="17.6" dy="6.5">esc</tspan><tspan dy="-6.5">(r</tspan><tspan font-size="17.6" dy="6.5">0</tspan><tspan dy="-6.5">) = 462 km/s</tspan></text>
<text x="529.4" y="488.03" font-family="Liberation Sans, sans-serif" font-size="27.6">k = 3.2</text>
<text x="682.4" y="724.83" font-family="Liberation Sans, sans-serif" font-size="28.6" textLength="112.4" lengthAdjust="spacingAndGlyphs">N = 9050</text>
<polygon points="68.7,1155.2 70.1,1153.3 74.8,1144 79,1127 83.3,1109.8 87.7,1082.2 92,1056.9 96.1,1025.5 100.5,1004.6 105.3,997.3 109.4,978.1 114.2,964.6 119,970.8 123.1,972.5 127.5,962.2 132.3,967.7 137.1,970.1 141.9,978.6 146.1,981 150.4,983.4 154.6,986.3 158.8,989.2 163.1,986.5 168,985.3 172.5,997.3 176.9,1003.4 181.2,999 186,1007.5 190.1,1017.8 194.5,1016.6 199.3,1033.5 203.4,1038.3 208.2,1041.7 213,1047.2 217.1,1055.2 221.4,1068.9 226.3,1075.4 230.6,1084.1 234.7,1095.4 238.8,1097.8 243.1,1105.8 247.5,1109.3 252,1116.4 256.4,1120 260.9,1127.7 264.9,1134.1 269.4,1136.7 274.2,1143.6 278.8,1147.2 283.7,1149.2 291.7,1151.2 295.7,1152 299.6,1153.6 309.6,1154.8 399.2,1155.2 399.1,1155.16 68.75,1155.16" fill="#bebebe" clip-path="url(#cl2)"/>
<rect x="68.75" y="841.26" width="330.35" height="313.9" fill="none" stroke="#000" stroke-width="1.2"/>
<path d="M156.84 1155.16v-6.8 M156.84 841.26v6.8 M244.94 1155.16v-6.8 M244.94 841.26v6.8 M333.03 1155.16v-6.8 M333.03 841.26v6.8 M90.77 1155.16v-3.4 M90.77 841.26v3.4 M112.8 1155.16v-3.4 M112.8 841.26v3.4 M134.82 1155.16v-3.4 M134.82 841.26v3.4 M178.87 1155.16v-3.4 M178.87 841.26v3.4 M200.89 1155.16v-3.4 M200.89 841.26v3.4 M222.91 1155.16v-3.4 M222.91 841.26v3.4 M266.96 1155.16v-3.4 M266.96 841.26v3.4 M288.98 1155.16v-3.4 M288.98 841.26v3.4 M311.01 1155.16v-3.4 M311.01 841.26v3.4 M355.05 1155.16v-3.4 M355.05 841.26v3.4 M377.08 1155.16v-3.4 M377.08 841.26v3.4 M68.75 1149.93h3.4 M399.1 1149.93h-3.4 M68.75 1144.7h3.4 M399.1 1144.7h-3.4 M68.75 1139.46h3.4 M399.1 1139.46h-3.4 M68.75 1134.23h3.4 M399.1 1134.23h-3.4 M68.75 1129h3.4 M399.1 1129h-3.4 M68.75 1123.77h3.4 M399.1 1123.77h-3.4 M68.75 1118.54h3.4 M399.1 1118.54h-3.4 M68.75 1113.31h3.4 M399.1 1113.31h-3.4 M68.75 1108.07h3.4 M399.1 1108.07h-3.4 M68.75 1102.84h6.8 M399.1 1102.84h-6.8 M68.75 1097.61h3.4 M399.1 1097.61h-3.4 M68.75 1092.38h3.4 M399.1 1092.38h-3.4 M68.75 1087.15h3.4 M399.1 1087.15h-3.4 M68.75 1081.92h3.4 M399.1 1081.92h-3.4 M68.75 1076.68h3.4 M399.1 1076.68h-3.4 M68.75 1071.45h3.4 M399.1 1071.45h-3.4 M68.75 1066.22h3.4 M399.1 1066.22h-3.4 M68.75 1060.99h3.4 M399.1 1060.99h-3.4 M68.75 1055.76h3.4 M399.1 1055.76h-3.4 M68.75 1050.53h6.8 M399.1 1050.53h-6.8 M68.75 1045.29h3.4 M399.1 1045.29h-3.4 M68.75 1040.06h3.4 M399.1 1040.06h-3.4 M68.75 1034.83h3.4 M399.1 1034.83h-3.4 M68.75 1029.6h3.4 M399.1 1029.6h-3.4 M68.75 1024.37h3.4 M399.1 1024.37h-3.4 M68.75 1019.14h3.4 M399.1 1019.14h-3.4 M68.75 1013.9h3.4 M399.1 1013.9h-3.4 M68.75 1008.67h3.4 M399.1 1008.67h-3.4 M68.75 1003.44h3.4 M399.1 1003.44h-3.4 M68.75 998.21h6.8 M399.1 998.21h-6.8 M68.75 992.98h3.4 M399.1 992.98h-3.4 M68.75 987.75h3.4 M399.1 987.75h-3.4 M68.75 982.51h3.4 M399.1 982.51h-3.4 M68.75 977.28h3.4 M399.1 977.28h-3.4 M68.75 972.05h3.4 M399.1 972.05h-3.4 M68.75 966.82h3.4 M399.1 966.82h-3.4 M68.75 961.59h3.4 M399.1 961.59h-3.4 M68.75 956.36h3.4 M399.1 956.36h-3.4 M68.75 951.12h3.4 M399.1 951.12h-3.4 M68.75 945.89h6.8 M399.1 945.89h-6.8 M68.75 940.66h3.4 M399.1 940.66h-3.4 M68.75 935.43h3.4 M399.1 935.43h-3.4 M68.75 930.2h3.4 M399.1 930.2h-3.4 M68.75 924.97h3.4 M399.1 924.97h-3.4 M68.75 919.73h3.4 M399.1 919.73h-3.4 M68.75 914.5h3.4 M399.1 914.5h-3.4 M68.75 909.27h3.4 M399.1 909.27h-3.4 M68.75 904.04h3.4 M399.1 904.04h-3.4 M68.75 898.81h3.4 M399.1 898.81h-3.4 M68.75 893.58h6.8 M399.1 893.58h-6.8 M68.75 888.35h3.4 M399.1 888.35h-3.4 M68.75 883.11h3.4 M399.1 883.11h-3.4 M68.75 877.88h3.4 M399.1 877.88h-3.4 M68.75 872.65h3.4 M399.1 872.65h-3.4 M68.75 867.42h3.4 M399.1 867.42h-3.4 M68.75 862.19h3.4 M399.1 862.19h-3.4 M68.75 856.95h3.4 M399.1 856.95h-3.4 M68.75 851.72h3.4 M399.1 851.72h-3.4 M68.75 846.49h3.4 M399.1 846.49h-3.4" stroke="#000" stroke-width="1" fill="none"/>
<g clip-path="url(#cl2)">
<polyline points="68.7,1155.2 70.1,1153.3 74.8,1144 79,1127 83.3,1109.8 87.7,1082.2 92,1056.9 96.1,1025.5 100.5,1004.6 105.3,997.3 109.4,978.1 114.2,964.6 119,970.8 123.1,972.5 127.5,962.2 132.3,967.7 137.1,970.1 141.9,978.6 146.1,981 150.4,983.4 154.6,986.3 158.8,989.2 163.1,986.5 168,985.3 172.5,997.3 176.9,1003.4 181.2,999 186,1007.5 190.1,1017.8 194.5,1016.6 199.3,1033.5 203.4,1038.3 208.2,1041.7 213,1047.2 217.1,1055.2 221.4,1068.9 226.3,1075.4 230.6,1084.1 234.7,1095.4 238.8,1097.8 243.1,1105.8 247.5,1109.3 252,1116.4 256.4,1120 260.9,1127.7 264.9,1134.1 269.4,1136.7 274.2,1143.6 278.8,1147.2 283.7,1149.2 291.7,1151.2 295.7,1152 299.6,1153.6 309.6,1154.8 399.2,1155.2" fill="none" stroke="#000" stroke-width="1.8" stroke-linejoin="round"/>
<polygon points="298,1154.16 310,1153.46 399.7,1153.46 399.7,1156.91 310,1156.91 300,1155.76" fill="#000"/>
</g>
<text x="68.75" y="1194.86" font-family="Liberation Sans, sans-serif" font-size="31" text-anchor="middle">0</text>
<text x="156.84" y="1194.86" font-family="Liberation Sans, sans-serif" font-size="31" text-anchor="middle">200</text>
<text x="244.94" y="1194.86" font-family="Liberation Sans, sans-serif" font-size="31" text-anchor="middle">400</text>
<text x="333.03" y="1194.86" font-family="Liberation Sans, sans-serif" font-size="31" text-anchor="middle">600</text>
<text x="233.93" y="1227.86" font-family="Liberation Sans, sans-serif" font-size="30.7" text-anchor="middle">v<tspan font-size="18.2" dy="7.4">tot</tspan><tspan dy="-7.4"> [km/s]</tspan></text>
<text transform="translate(27.5 998.31) rotate(-90)" font-family="Liberation Sans, sans-serif" font-size="32.5" text-anchor="middle">dN</text>
<text x="273.9" y="878.06" font-family="Liberation Sans, sans-serif" font-size="34.4">Halo 5</text>
<text x="223" y="919.66" font-family="Liberation Sans, sans-serif" font-size="28.3"><tspan font-family="Liberation Serif, serif" font-size="29.5">β</tspan>=0.7, <tspan font-family="Liberation Serif, serif" font-size="29.5">α</tspan>=2.2</text>
<polygon points="483.7,982.8 488.2,982.8 496,986.9 503.6,995.1 510.8,1006.9 516.9,1025.8 524.7,1034 531.7,1046.3 539.4,1066.3 547,1069.8 554.4,1081.8 561.6,1086.7 569.3,1097.7 577.2,1102.5 584.9,1114.3 591,1123.5 599.2,1132.1 606.4,1138.9 613.5,1143 621.7,1146 636.1,1149.7 643.2,1151.2 647.3,1153.2 654.5,1154.6 662,1155.2 781.5,1155.2 814.05,1155.16 483.7,1155.16" fill="#bebebe" clip-path="url(#cr2)"/>
<rect x="483.7" y="841.26" width="330.35" height="313.9" fill="none" stroke="#000" stroke-width="1.2"/>
<path d="M557.11 1155.16v-6.5 M557.11 841.26v6.5 M630.52 1155.16v-6.5 M630.52 841.26v6.5 M703.93 1155.16v-6.5 M703.93 841.26v6.5 M777.34 1155.16v-6.5 M777.34 841.26v6.5 M491.04 1155.16v-2.8 M491.04 841.26v2.8 M498.38 1155.16v-2.8 M498.38 841.26v2.8 M505.72 1155.16v-2.8 M505.72 841.26v2.8 M513.06 1155.16v-2.8 M513.06 841.26v2.8 M520.41 1155.16v-2.8 M520.41 841.26v2.8 M527.75 1155.16v-2.8 M527.75 841.26v2.8 M535.09 1155.16v-2.8 M535.09 841.26v2.8 M542.43 1155.16v-2.8 M542.43 841.26v2.8 M549.77 1155.16v-2.8 M549.77 841.26v2.8 M564.45 1155.16v-2.8 M564.45 841.26v2.8 M571.79 1155.16v-2.8 M571.79 841.26v2.8 M579.13 1155.16v-2.8 M579.13 841.26v2.8 M586.48 1155.16v-2.8 M586.48 841.26v2.8 M593.82 1155.16v-2.8 M593.82 841.26v2.8 M601.16 1155.16v-2.8 M601.16 841.26v2.8 M608.5 1155.16v-2.8 M608.5 841.26v2.8 M615.84 1155.16v-2.8 M615.84 841.26v2.8 M623.18 1155.16v-2.8 M623.18 841.26v2.8 M637.86 1155.16v-2.8 M637.86 841.26v2.8 M645.2 1155.16v-2.8 M645.2 841.26v2.8 M652.55 1155.16v-2.8 M652.55 841.26v2.8 M659.89 1155.16v-2.8 M659.89 841.26v2.8 M667.23 1155.16v-2.8 M667.23 841.26v2.8 M674.57 1155.16v-2.8 M674.57 841.26v2.8 M681.91 1155.16v-2.8 M681.91 841.26v2.8 M689.25 1155.16v-2.8 M689.25 841.26v2.8 M696.59 1155.16v-2.8 M696.59 841.26v2.8 M711.27 1155.16v-2.8 M711.27 841.26v2.8 M718.62 1155.16v-2.8 M718.62 841.26v2.8 M725.96 1155.16v-2.8 M725.96 841.26v2.8 M733.3 1155.16v-2.8 M733.3 841.26v2.8 M740.64 1155.16v-2.8 M740.64 841.26v2.8 M747.98 1155.16v-2.8 M747.98 841.26v2.8 M755.32 1155.16v-2.8 M755.32 841.26v2.8 M762.66 1155.16v-2.8 M762.66 841.26v2.8 M770 1155.16v-2.8 M770 841.26v2.8 M784.69 1155.16v-2.8 M784.69 841.26v2.8 M792.03 1155.16v-2.8 M792.03 841.26v2.8 M799.37 1155.16v-2.8 M799.37 841.26v2.8 M806.71 1155.16v-2.8 M806.71 841.26v2.8 M483.7 1139.46h2.8 M814.05 1139.46h-2.8 M483.7 1123.77h2.8 M814.05 1123.77h-2.8 M483.7 1108.07h2.8 M814.05 1108.07h-2.8 M483.7 1092.38h2.8 M814.05 1092.38h-2.8 M483.7 1076.68h6.5 M814.05 1076.68h-6.5 M483.7 1060.99h2.8 M814.05 1060.99h-2.8 M483.7 1045.29h2.8 M814.05 1045.29h-2.8 M483.7 1029.6h2.8 M814.05 1029.6h-2.8 M483.7 1013.9h2.8 M814.05 1013.9h-2.8 M483.7 998.21h6.5 M814.05 998.21h-6.5 M483.7 982.51h2.8 M814.05 982.51h-2.8 M483.7 966.82h2.8 M814.05 966.82h-2.8 M483.7 951.12h2.8 M814.05 951.12h-2.8 M483.7 935.43h2.8 M814.05 935.43h-2.8 M483.7 919.73h6.5 M814.05 919.73h-6.5 M483.7 904.04h2.8 M814.05 904.04h-2.8 M483.7 888.35h2.8 M814.05 888.35h-2.8 M483.7 872.65h2.8 M814.05 872.65h-2.8 M483.7 856.95h2.8 M814.05 856.95h-2.8" stroke="#000" stroke-width="1" fill="none"/>
<g clip-path="url(#cr2)">
<polyline points="488.2,982.8 496,986.9 503.6,995.1 510.8,1006.9 516.9,1025.8 524.7,1034 531.7,1046.3 539.4,1066.3 547,1069.8 554.4,1081.8 561.6,1086.7 569.3,1097.7 577.2,1102.5 584.9,1114.3 591,1123.5 599.2,1132.1 606.4,1138.9 613.5,1143 621.7,1146 636.1,1149.7 643.2,1151.2 647.3,1153.2 654.5,1154.6 662,1155.2 781.5,1155.2" fill="none" stroke="#000" stroke-width="2.4" stroke-linejoin="round"/>
<polygon points="656,1153.96 660,1152.86 780.9,1152.86 780.9,1157.61 660,1157.61 656,1156.36" fill="#000"/>
<g fill="#000"><rect x="644" y="843.61" width="4" height="3.1"/><rect x="644" y="855.07" width="4" height="3.1"/><rect x="644" y="866.53" width="4" height="3.1"/><rect x="644" y="877.99" width="4" height="3.1"/><rect x="644" y="889.45" width="4" height="3.1"/><rect x="644" y="900.91" width="4" height="3.1"/><rect x="644" y="912.37" width="4" height="3.1"/><rect x="644" y="923.83" width="4" height="3.1"/><rect x="644" y="935.29" width="4" height="3.1"/><rect x="644" y="946.75" width="4" height="3.1"/><rect x="644" y="958.21" width="4" height="3.1"/><rect x="644" y="969.67" width="4" height="3.1"/><rect x="644" y="981.13" width="4" height="3.1"/><rect x="644" y="992.59" width="4" height="3.1"/><rect x="644" y="1004.05" width="4" height="3.1"/><rect x="644" y="1015.51" width="4" height="3.1"/><rect x="644" y="1026.97" width="4" height="3.1"/><rect x="644" y="1038.43" width="4" height="3.1"/><rect x="644" y="1049.89" width="4" height="3.1"/><rect x="644" y="1061.35" width="4" height="3.1"/><rect x="644" y="1072.81" width="4" height="3.1"/><rect x="644" y="1084.27" width="4" height="3.1"/><rect x="644" y="1095.73" width="4" height="3.1"/><rect x="644" y="1107.19" width="4" height="3.1"/><rect x="644" y="1118.65" width="4" height="3.1"/><rect x="644" y="1130.11" width="4" height="3.1"/><rect x="644" y="1141.57" width="4" height="3.1"/><rect x="644" y="1153.03" width="4" height="3.1"/></g>
<polyline points="483.7,961.55 484.7,963.73 485.7,965.9 486.7,968.05 487.7,970.2 488.7,972.33 489.7,974.45 490.7,976.56 491.7,978.65 492.7,980.74 493.7,982.81 494.7,984.86 495.7,986.91 496.7,988.94 497.7,990.96 498.7,992.97 499.7,994.97 500.7,996.95 501.7,998.92 502.7,1000.88 503.7,1002.83 504.7,1004.76 505.7,1006.69 506.7,1008.6 507.7,1010.49 508.7,1012.38 509.7,1014.25 510.7,1016.11 511.7,1017.96 512.7,1019.79 513.7,1021.62 514.7,1023.43 515.7,1025.23 516.7,1027.01 517.7,1028.79 518.7,1030.55 519.7,1032.3 520.7,1034.03 521.7,1035.76 522.7,1037.47 523.7,1039.17 524.7,1040.85 525.7,1042.53 526.7,1044.19 527.7,1045.84 528.7,1047.48 529.7,1049.11 530.7,1050.72 531.7,1052.32 532.7,1053.91 533.7,1055.48 534.7,1057.05 535.7,1058.6 536.7,1060.14 537.7,1061.66 538.7,1063.18 539.7,1064.68 540.7,1066.17 541.7,1067.65 542.7,1069.11 543.7,1070.56 544.7,1072 545.7,1073.43 546.7,1074.84 547.7,1076.25 548.7,1077.64 549.7,1079.02 550.7,1080.38 551.7,1081.74 552.7,1083.08 553.7,1084.41 554.7,1085.72 555.7,1087.03 556.7,1088.32 557.7,1089.6 558.7,1090.86 559.7,1092.12 560.7,1093.36 561.7,1094.59 562.7,1095.81 563.7,1097.01 564.7,1098.21 565.7,1099.39 566.7,1100.55 567.7,1101.71 568.7,1102.85 569.7,1103.98 570.7,1105.1 571.7,1106.21 572.7,1107.3 573.7,1108.38 574.7,1109.45 575.7,1110.51 576.7,1111.55 577.7,1112.59 578.7,1113.61 579.7,1114.61 580.7,1115.61 581.7,1116.59 582.7,1117.56 583.7,1118.52 584.7,1119.46 585.7,1120.4 586.7,1121.32 587.7,1122.23 588.7,1123.12 589.7,1124.01 590.7,1124.88 591.7,1125.74 592.7,1126.58 593.7,1127.42 594.7,1128.24 595.7,1129.05 596.7,1129.85 597.7,1130.63 598.7,1131.4 599.7,1132.16 600.7,1132.91 601.7,1133.65 602.7,1134.37 603.7,1135.08 604.7,1135.78 605.7,1136.47 606.7,1137.14 607.7,1137.8 608.7,1138.45 609.7,1139.09 610.7,1139.71 611.7,1140.32 612.7,1140.92 613.7,1141.51 614.7,1142.08 615.7,1142.65 616.7,1143.2 617.7,1143.73 618.7,1144.26 619.7,1144.77 620.7,1145.27 621.7,1145.76 622.7,1146.24 623.7,1146.7 624.7,1147.15 625.7,1147.59 626.7,1148.02 627.7,1148.43 628.7,1148.83 629.7,1149.22 630.7,1149.6 631.7,1149.96 632.7,1150.31 633.7,1150.65 634.7,1150.98 635.7,1151.3 636.7,1151.6 637.7,1151.89 638.7,1152.17 639.7,1152.43 640.7,1152.69 641.7,1152.93 642.7,1153.16 643.7,1153.37 644.7,1153.58 645.7,1153.77 646.7,1153.95 647.7,1154.12 648.7,1154.27 649.7,1154.41 650.7,1154.54 651.7,1154.66 652.7,1154.76 653.7,1154.86 654.7,1154.94 655.7,1155.01 656.7,1155.06 657.7,1155.1 658.7,1155.14 659.7,1155.15 660.7,1155.16 660.7,1155.16" fill="none" stroke="#f00" stroke-width="4.0" stroke-dasharray="16.4 16.1"/>
</g>
<text x="483.7" y="1194.86" font-family="Liberation Sans, sans-serif" font-size="31" text-anchor="middle">300</text>
<text x="557.11" y="1194.86" font-family="Liberation Sans, sans-serif" font-size="31" text-anchor="middle">400</text>
<text x="630.52" y="1194.86" font-family="Liberation Sans, sans-serif" font-size="31" text-anchor="middle">500</text>
<text x="703.93" y="1194.86" font-family="Liberation Sans, sans-serif" font-size="31" text-anchor="middle">600</text>
<text x="777.34" y="1194.86" font-family="Liberation Sans, sans-serif" font-size="31" text-anchor="middle">700</text>
<text x="648.88" y="1227.86" font-family="Liberation Sans, sans-serif" font-size="30.7" text-anchor="middle">v<tspan font-size="18.2" dy="7.4">tot</tspan><tspan dy="-7.4"> [km/s]</tspan></text>
<text transform="translate(442.5 998.31) rotate(-90)" font-family="Liberation Sans, sans-serif" font-size="32.5" text-anchor="middle">dN</text>
<rect x="498" y="847.66" width="222" height="32.1" fill="#fff"/>
<rect x="529" y="879.26" width="83" height="31.5" fill="#fff"/>
<rect x="683" y="1108.46" width="128" height="38" fill="#fff"/>
<text x="498.6" y="872.26" font-family="Liberation Sans, sans-serif" font-size="27.6">v<tspan font-size="17.6" dy="6.5">esc</tspan><tspan dy="-6.5">(r</tspan><tspan font-size="17.6" dy="6.5">0</tspan><tspan dy="-6.5">) = 521 km/s</tspan></text>
<text x="529.4" y="903.36" font-family="Liberation Sans, sans-serif" font-size="27.6">k = 2.0</text>
<text x="682.4" y="1140.16" font-family="Liberation Sans, sans-serif" font-size="28.6" textLength="127.8" lengthAdjust="spacingAndGlyphs">N = 10878</text>
</svg>
</body></html>
